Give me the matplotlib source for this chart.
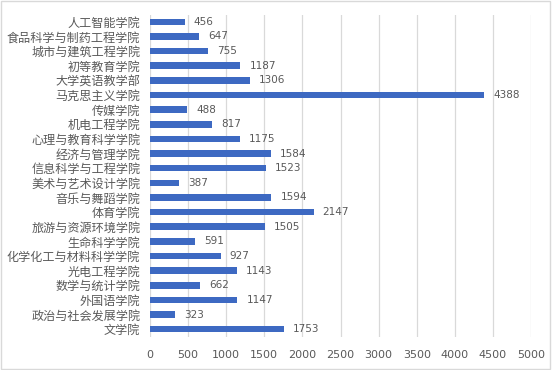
import matplotlib
matplotlib.use("Agg")
import matplotlib.pyplot as plt
from matplotlib.patches import Rectangle

plt.rcParams['font.family'] = ['Noto Sans CJK SC', 'DejaVu Sans']

colleges = ["人工智能学院", "食品科学与制药工程学院", "城市与建筑工程学院", "初等教育学院",
            "大学英语教学部", "马克思主义学院", "传媒学院", "机电工程学院",
            "心理与教育科学学院", "经济与管理学院", "信息科学与工程学院", "美术与艺术设计学院",
            "音乐与舞蹈学院", "体育学院", "旅游与资源环境学院", "生命科学学院",
            "化学化工与材料科学学院", "光电工程学院", "数学与统计学院", "外国语学院",
            "政治与社会发展学院", "文学院"]
counts = [456, 647, 755, 1187, 1306, 4388, 488, 817, 1175, 1584, 1523, 387,
          1594, 2147, 1505, 591, 927, 1143, 662, 1147, 323, 1753]
xticks = list(range(0, 5001, 500))

txt = "#595959"
fig = plt.figure(figsize=(5.52, 3.70), dpi=100)
ax = fig.add_axes([150 / 552, 1 - 336.5 / 370, 381 / 552, 322 / 370])

y = list(range(len(colleges)))
ax.barh(y, counts, height=0.45, color="#3D69C2", zorder=3)
for yi, v in zip(y, counts):
    ax.text(v + 120, yi, str(v), va="center", ha="left", fontsize=7.5, color=txt,
            family="DejaVu Sans")

ax.set_ylim(len(colleges) - 0.5, -0.5)
ax.set_yticks(y)
ax.set_yticklabels(colleges, fontsize=8.7, color=txt)
ax.set_xlim(0, 5000)
ax.set_xticks(xticks)
ax.set_xticklabels([str(t) for t in xticks], fontsize=8, color=txt, family="DejaVu Sans")
ax.tick_params(length=0, pad=7)
ax.tick_params(axis="x", pad=10)
ax.grid(axis="x", color="#d9d9d9", linewidth=0.9, zorder=0)
for s in ax.spines.values():
    s.set_visible(False)

fig.patches.append(Rectangle((0.002, 0.003), 0.995, 0.994, transform=fig.transFigure,
                             fill=False, edgecolor="#d9d9d9", linewidth=1))
fig.savefig("out.png", dpi=100)
